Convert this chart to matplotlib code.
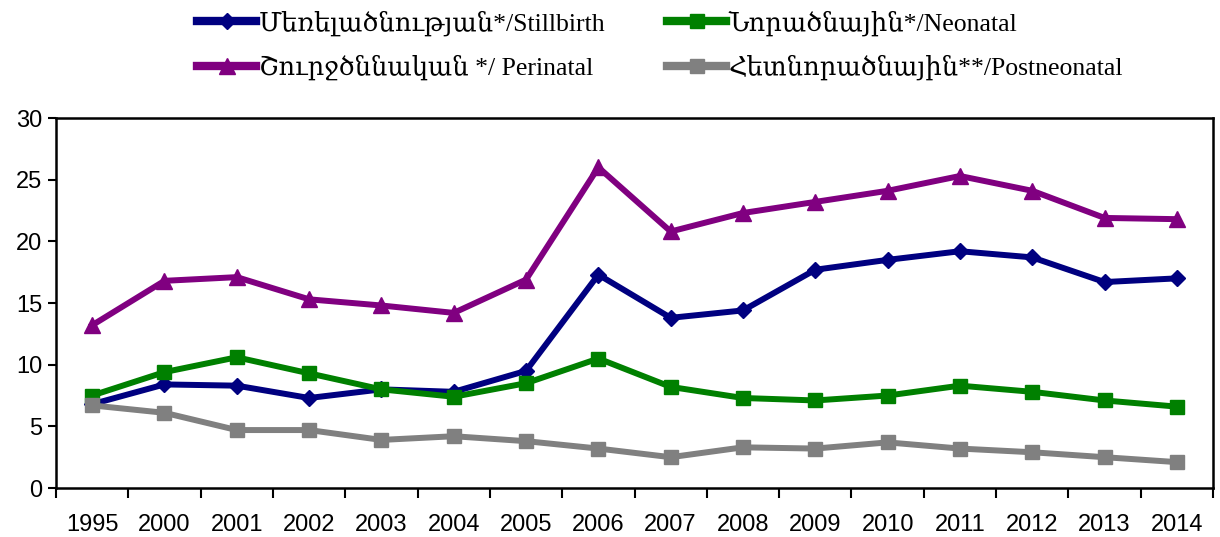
import matplotlib.pyplot as plt
import numpy as np

years = ['1995', '2000', '2001', '2002', '2003', '2004', '2005', '2006',
         '2007', '2008', '2009', '2010', '2011', '2012', '2013', '2014']
stillbirth = [6.8, 8.4, 8.3, 7.3, 8.0, 7.8, 9.5, 17.3, 13.8, 14.4, 17.7, 18.5, 19.2, 18.7, 16.7, 17.0]
perinatal = [13.2, 16.8, 17.1, 15.3, 14.8, 14.2, 16.9, 26.0, 20.8, 22.3, 23.2, 24.1, 25.3, 24.1, 21.9, 21.8]
neonatal = [7.5, 9.4, 10.6, 9.3, 8.0, 7.4, 8.5, 10.5, 8.2, 7.3, 7.1, 7.5, 8.3, 7.8, 7.1, 6.6]
postneonatal = [6.7, 6.1, 4.7, 4.7, 3.9, 4.2, 3.8, 3.2, 2.5, 3.3, 3.2, 3.7, 3.2, 2.9, 2.5, 2.1]

labels = ['Մեռելածնության*/Stillbirth', 'Շուրջծննական */ Perinatal',
          'Նորածնային*/Neonatal', 'Հետնորածնային**/Postneonatal']

fig = plt.figure(figsize=(12.2, 5.37), dpi=100)
ax = fig.add_axes([0.0459, 0.0912, 0.9484, 0.689])
x = np.arange(len(years))

lw = 4.3
l1, = ax.plot(x, stillbirth, color='#000080', lw=lw, marker='D', ms=8, zorder=3)
l2, = ax.plot(x, perinatal, color='#800080', lw=lw, marker='^', ms=11, zorder=3)
l3, = ax.plot(x, neonatal, color='#008000', lw=lw, marker='s', ms=10, zorder=4)
l4, = ax.plot(x, postneonatal, color='#808080', lw=lw, marker='s', ms=10, zorder=5)

ax.set_xlim(-0.5, len(years) - 0.5)
ax.set_ylim(0, 30)
ax.set_yticks(range(0, 31, 5))
ax.set_xticks(np.arange(-0.5, len(years), 1.0))
ax.set_xticklabels([])
ax.set_xticks(x, minor=True)
ax.set_xticklabels(years, minor=True)
ax.tick_params(axis='x', which='minor', length=0, pad=19)
ax.tick_params(axis='x', which='major', length=7, width=1.5, direction='out')
ax.tick_params(axis='y', length=6, width=1.5, direction='out', pad=4)
for lab in ax.get_xticklabels(minor=True):
    lab.set_fontfamily('Liberation Sans')
    lab.set_fontsize(17)
for lab in ax.get_yticklabels():
    lab.set_fontfamily('Liberation Sans')
    lab.set_fontsize(17)
for s in ax.spines.values():
    s.set_linewidth(1.8)

leg = fig.legend([l1, l2, l3, l4], labels, ncol=2, loc='upper left',
                 bbox_to_anchor=(197 / 1220, 1 - 10 / 537), frameon=False,
                 borderpad=0, borderaxespad=0, handlelength=2.3,
                 columnspacing=2.4, labelspacing=0.75, handletextpad=0.1,
                 prop={'family': ['Liberation Serif', 'DejaVu Serif'], 'size': 18.5})
for h in leg.get_lines():
    h.set_linewidth(6)

fig.savefig('out.png', dpi=100)
